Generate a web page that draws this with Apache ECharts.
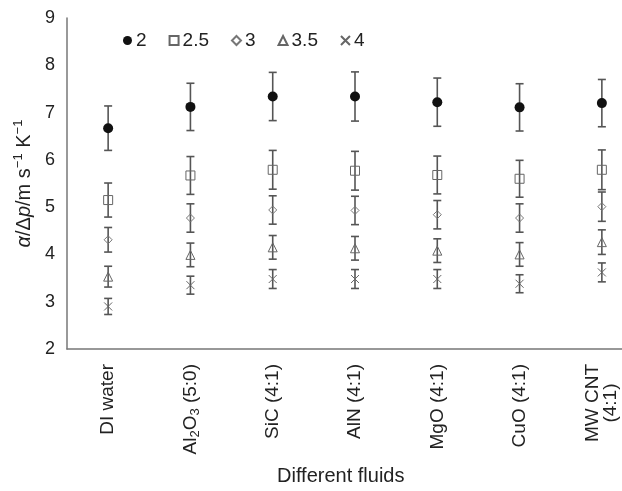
<!DOCTYPE html>
<html><head><meta charset="utf-8">
<script src="https://cdn.jsdelivr.net/npm/echarts@6/dist/echarts.min.js"></script>
<style>html,body{margin:0;padding:0;background:#fff}#c{width:622px;height:491px}</style>
</head><body><div id="c"></div>
<script>
const categories = ['DI water', 'Al2O3 (5:0)', 'SiC (4:1)', 'AlN (4:1)', 'MgO (4:1)', 'CuO (4:1)', 'MW CNT\n(4:1)'];
const seriesNames = ['2', '2.5', '3', '3.5', '4'];
const v2   = [6.67, 7.12, 7.34, 7.34, 7.22, 7.11, 7.20];
const e2   = [0.47, 0.50, 0.51, 0.52, 0.51, 0.50, 0.50];
const v25  = [5.15, 5.67, 5.79, 5.77, 5.68, 5.60, 5.79];
const e25  = [0.36, 0.40, 0.41, 0.41, 0.40, 0.39, 0.42];
const v3   = [4.31, 4.77, 4.94, 4.93, 4.84, 4.77, 5.01];
const e3   = [0.26, 0.30, 0.30, 0.30, 0.30, 0.30, 0.31];
const v35  = [3.53, 3.99, 4.15, 4.13, 4.08, 4.00, 4.26];
const e35  = [0.22, 0.25, 0.25, 0.25, 0.25, 0.25, 0.26];
const v4   = [2.90, 3.35, 3.48, 3.48, 3.48, 3.38, 3.62];
const e4   = [0.17, 0.19, 0.20, 0.20, 0.20, 0.19, 0.20];
const yTicks = [2, 3, 4, 5, 6, 7, 8, 9];

const values = [v2, v25, v3, v35, v4];
const errs = [e2, e25, e3, e35, e4];
const FONT = 'Liberation Sans, Arial, sans-serif';
const symbols = ['circle', 'rect', 'diamond', 'triangle', 'path://M0,0L10,10M10,0L0,10'];
const sizes = [10, 9, 8, 9, 8];
const fills = ['#111', 'transparent', 'transparent', 'transparent', 'transparent'];
const borders = ['#111', '#666', '#777', '#666', '#666'];

const chart = echarts.init(document.getElementById('c'), null, {renderer: 'canvas'});
const series = [];
values.forEach((vals, s) => {
  series.push({
    type: 'custom', name: 'err' + s, z: 1,
    renderItem: function (params, api) {
      const x = api.value(0);
      const lo = api.coord([x, api.value(1)]);
      const hi = api.coord([x, api.value(2)]);
      const w = 4;
      const st = {stroke: '#555', lineWidth: 1.6};
      return {type: 'group', children: [
        {type: 'line', shape: {x1: lo[0], y1: lo[1], x2: hi[0], y2: hi[1]}, style: st},
        {type: 'line', shape: {x1: lo[0] - w, y1: lo[1], x2: lo[0] + w, y2: lo[1]}, style: st},
        {type: 'line', shape: {x1: hi[0] - w, y1: hi[1], x2: hi[0] + w, y2: hi[1]}, style: st}
      ]};
    },
    data: vals.map((v, i) => [i, v - errs[s][i], v + errs[s][i]]),
    silent: true
  });
});
values.forEach((vals, s) => {
  series.push({
    type: 'scatter', name: seriesNames[s], z: 3,
    symbol: symbols[s], symbolSize: sizes[s],
    itemStyle: {color: fills[s], borderColor: borders[s], borderWidth: s === 0 ? 0 : 1, opacity: 1},
    data: vals.map((v, i) => [i, v])
  });
});

chart.setOption({
  animation: false,
  backgroundColor: '#fff',
  grid: {left: 67, top: 18, width: 576, bottom: 142, containLabel: false, outerBoundsMode: 'none'},
  legend: {
    left: 118, top: 26, itemGap: 22, itemWidth: 9, itemHeight: 9,
    data: seriesNames.map((n, s) => ({name: n, icon: symbols[s]})),
    textStyle: {fontFamily: FONT, fontSize: 19, color: '#222', padding: [0, 0, 0, -1]}
  },
  xAxis: {
    type: 'category', data: categories, boundaryGap: true,
    axisLine: {lineStyle: {color: '#777', width: 1.5}},
    axisTick: {show: false},
    splitLine: {show: false},
    axisLabel: {
      interval: 0, rotate: 90, margin: 15, fontFamily: FONT, fontSize: 19, color: '#222',
      formatter: function (v) {
        if (v.indexOf('Al2O3') === 0) return '{n|Al}{s|2}{n|O}{s|3}{n| (5:0)}';
        if (v.indexOf('\n') >= 0) return v.split('\n').map(t => '{c|' + t + '}').join('\n');
        return v;
      },
      rich: {
        n: {fontFamily: FONT, fontSize: 19, color: '#222'},
        s: {fontFamily: FONT, fontSize: 13, color: '#222', verticalAlign: 'bottom', padding: [9, 0, 0, 0]},
        c: {fontFamily: FONT, fontSize: 19, color: '#222', align: 'center', lineHeight: 18}
      }
    }
  },
  yAxis: {
    type: 'value', min: yTicks[0], max: yTicks[yTicks.length - 1], interval: 1,
    axisLine: {show: true, lineStyle: {color: '#777', width: 1.5}},
    axisTick: {show: false},
    splitLine: {show: false},
    axisLabel: {fontFamily: FONT, fontSize: 18, color: '#222', margin: 12},
    name: '{i|α}{n|/Δ}{i|p}{n|/m s}{s|−1}{n| K}{s|−1}',
    nameLocation: 'middle', nameGap: 31, nameRotate: 90,
    nameTextStyle: {
      rich: {
        n: {fontFamily: FONT, fontSize: 20, color: '#222', lineHeight: 24},
        i: {fontFamily: FONT, fontSize: 20, color: '#222', fontStyle: 'italic', lineHeight: 24},
        s: {fontFamily: FONT, fontSize: 13, color: '#222', verticalAlign: 'top', lineHeight: 24, padding: [0, 0, 9, 0]}
      }
    }
  },
  graphic: [{
    type: 'text', left: 277, top: 466,
    style: {text: 'Different fluids', fontFamily: FONT, fontSize: 20, fill: '#222'}
  }],
  series: series
});
</script></body></html>
